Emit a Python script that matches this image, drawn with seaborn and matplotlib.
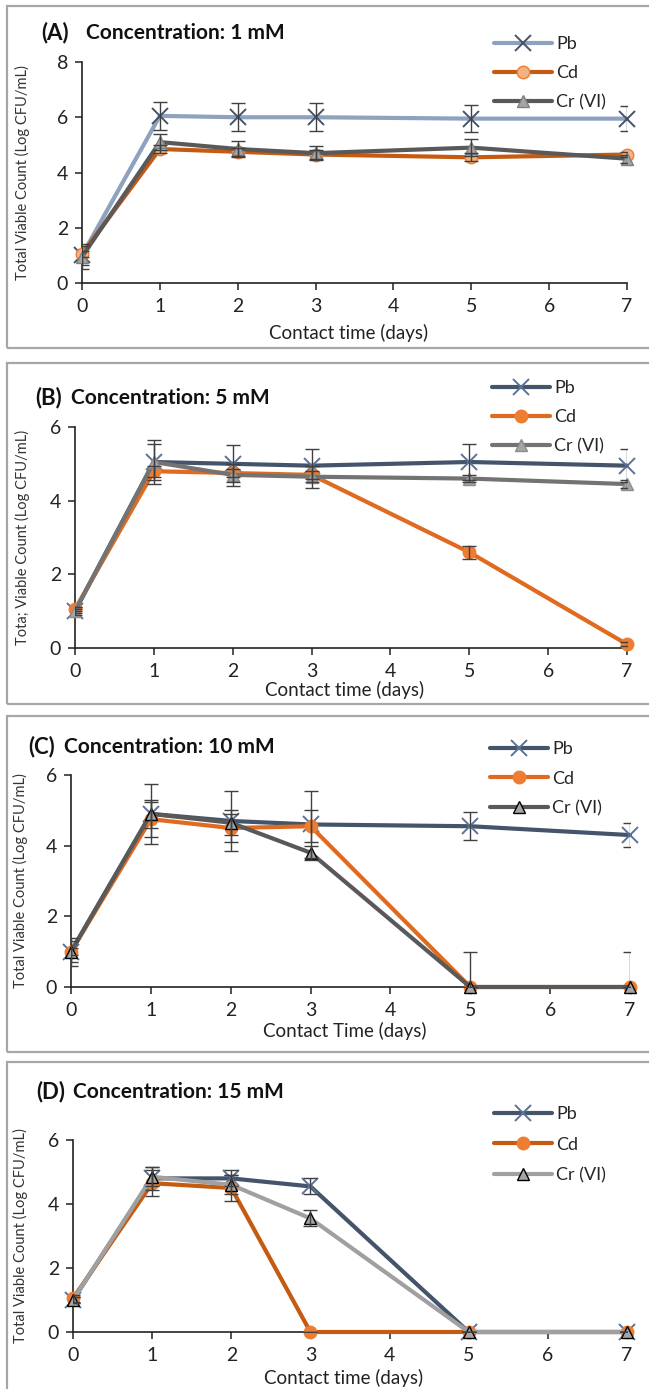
import numpy as np
import pandas as pd
import matplotlib
matplotlib.use('Agg')
import matplotlib.pyplot as plt
import seaborn as sns
from matplotlib.patches import Rectangle

sns.set_style('ticks')
plt.rcParams['font.family'] = ['Lato', 'DejaVu Sans']

days = [0, 1, 2, 3, 5, 7]
metals = ['Pb', 'Cd', 'Cr (VI)']

# (A) 1 mM
a_pb = [1.0, 6.05, 6.0, 6.0, 5.95, 5.95]
a_cd = [1.05, 4.85, 4.75, 4.65, 4.55, 4.65]
a_cr = [0.95, 5.1, 4.85, 4.7, 4.9, 4.5]
a_pb_err = [0.35, 0.5, 0.5, 0.5, 0.5, 0.45]
a_cd_err = [0.1, 0.15, 0.15, 0.15, 0.15, 0.1]
a_cr_err = [0.45, 0.3, 0.3, 0.25, 0.3, 0.15]

# (B) 5 mM
b_pb = [1.0, 5.05, 5.0, 4.95, 5.05, 4.95]
b_cd = [1.05, 4.8, 4.75, 4.7, 2.6, 0.1]
b_cr = [1.0, 5.05, 4.7, 4.65, 4.6, 4.45]
b_pb_err = [0.1, 0.5, 0.5, 0.45, 0.5, 0.45]
b_cd_err = [0.05, 0.15, 0.1, 0.1, 0.18, 0.05]
b_cr_err = [0.05, 0.6, 0.3, 0.3, 0.1, 0.1]

# (C) 10 mM
c_pb = [1.0, 4.9, 4.7, 4.6, 4.55, 4.3]
c_cd = [1.0, 4.75, 4.5, 4.55, 0.0, 0.0]
c_cr = [1.0, 4.9, 4.65, 3.8, 0.0, 0.0]
c_pb_err = [0.4, 0.85, 0.85, 0.95, 0.4, 0.35]
c_cd_err = [0.1, 0.5, 0.4, 0.45, 1.0, 1.0]
c_cr_err = [0.3, 0.4, 0.35, 0.2, 0.0, 0.0]

# (D) 15 mM
d_pb = [1.0, 4.8, 4.8, 4.55, 0.0, 0.0]
d_cd = [1.05, 4.65, 4.5, 0.0, 0.0, 0.0]
d_cr = [1.0, 4.85, 4.6, 3.55, 0.0, 0.0]
d_pb_err = [0.1, 0.35, 0.25, 0.25, 0.0, 0.0]
d_cd_err = [0.1, 0.4, 0.4, 0.0, 0.0, 0.0]
d_cr_err = [0.1, 0.3, 0.3, 0.25, 0.0, 0.0]

W, H = 649, 1389
fig = plt.figure(figsize=(W / 100, H / 100), dpi=100)

def fx(px):
    return px / W

def fy(py):
    return 1 - py / H

panels = [
    dict(tag='(A)', conc='Concentration: 1 mM', box=(7, 6, 348), ax=(82, 627, 62, 283),
         tag_xy=(41, 33), conc_x=86, ymax=8, leg=(494, 36), lsp=0.72,
         ylabel='Total Viable Count (Log CFU/mL)', ylab_x=22, xlabel='Contact time (days)', xlab_y=333,
         vals=(a_pb, a_cd, a_cr), errs=(a_pb_err, a_cd_err, a_cr_err),
         styles=[dict(color='#8EA2BE', mec='#44546A', mfc='#44546A'),
                 dict(color='#C55A11', mec='#ED7D31', mfc='#F4B183'),
                 dict(color='#595959', mec='#7F7F7F', mfc='#A5A5A5')]),
    dict(tag='(B)', conc='Concentration: 5 mM', box=(7, 363, 704), ax=(75, 627, 427, 648),
         tag_xy=(35, 398), conc_x=71, ymax=6, leg=(492, 380), lsp=0.72,
         ylabel='Tota; Viable Count (Log CFU/mL)', ylab_x=22, xlabel='Contact time (days)', xlab_y=690,
         vals=(b_pb, b_cd, b_cr), errs=(b_pb_err, b_cd_err, b_cr_err),
         styles=[dict(color='#44546A', mec='#5B7398', mfc='#5B7398'),
                 dict(color='#E06A1F', mec='#ED7D31', mfc='#ED7D31'),
                 dict(color='#737373', mec='#8C8C8C', mfc='#A5A5A5')]),
    dict(tag='(C)', conc='Concentration: 10 mM', box=(7, 716, 1052), ax=(71, 630, 775, 987),
         tag_xy=(28, 747), conc_x=64, ymax=6, leg=(490, 741), lsp=0.76,
         ylabel='Total Viable Count (Log CFU/mL)', ylab_x=20, xlabel='Contact Time (days)', xlab_y=1031,
         vals=(c_pb, c_cd, c_cr), errs=(c_pb_err, c_cd_err, c_cr_err),
         styles=[dict(color='#44546A', mec='#5B7398', mfc='#5B7398'),
                 dict(color='#E06A1F', mec='#ED7D31', mfc='#ED7D31'),
                 dict(color='#595959', mec='#000000', mfc='#A5A5A5')]),
    dict(tag='(D)', conc='Concentration: 15 mM', box=(7, 1062, 1400), ax=(73, 627, 1140, 1332),
         tag_xy=(36, 1092), conc_x=73, ymax=6, leg=(494, 1106), lsp=0.82,
         ylabel='Total Viable Count (Log CFU/mL)', ylab_x=20, xlabel='Contact time (days)', xlab_y=1378,
         vals=(d_pb, d_cd, d_cr), errs=(d_pb_err, d_cd_err, d_cr_err),
         styles=[dict(color='#44546A', mec='#5B7398', mfc='#5B7398'),
                 dict(color='#C55A11', mec='#ED7D31', mfc='#ED7D31'),
                 dict(color='#A0A0A0', mec='#000000', mfc='#A5A5A5')]),
]

markers = ['x', 'o', '^']
msizes = [11, 9, 9]

for p in panels:
    bx, btop, bbot = p['box']
    fig.patches.append(Rectangle((fx(bx), fy(bbot)), fx(W + 10 - bx), fy(btop) - fy(bbot),
                                 transform=fig.transFigure, fill=False, edgecolor='#A6A6A6', lw=1.6))
    x0, x1, ytop, ybot = p['ax']
    ax = fig.add_axes([fx(x0), fy(ybot), fx(x1 - x0), fy(ytop) - fy(ybot)])
    ax.set_facecolor('none')

    for i, m in enumerate(metals):
        df = pd.DataFrame({'day': days, 'value': p['vals'][i]})
        st = p['styles'][i]
        sns.lineplot(data=df, x='day', y='value', ax=ax, color=st['color'], lw=3.0,
                     marker=markers[i], markersize=msizes[i], markeredgecolor=st['mec'],
                     markerfacecolor=st['mfc'], markeredgewidth=1.4 if i == 0 else 1.0,
                     label=m, clip_on=False, zorder=3 + i)
        ax.errorbar(days, p['vals'][i], yerr=p['errs'][i], fmt='none', ecolor='#404040',
                    elinewidth=1.0, capsize=5, capthick=1.0, zorder=6)

    ax.set_xlim(0, 7)
    ax.set_ylim(0, p['ymax'])
    ax.set_xticks(range(8))
    ax.set_yticks(range(0, p['ymax'] + 1, 2))
    sns.despine(ax=ax)
    for s in ['left', 'bottom']:
        ax.spines[s].set_color('#222222')
        ax.spines[s].set_linewidth(1.2)
    ax.tick_params(axis='both', direction='out', length=5, width=1.1, color='#222222',
                   labelsize=14, labelcolor='#222222')
    ax.tick_params(axis='x', pad=6)
    ax.tick_params(axis='y', pad=5)
    ax.set_xlabel('')
    ax.set_ylabel('')

    fig.text(fx(p['ylab_x']), fy((ytop + ybot) / 2), p['ylabel'], rotation=90, ha='center',
             va='center', fontsize=10.5, color='#333333')
    fig.text(fx((x0 + x1) / 2 - 6), fy(p['xlab_y']), p['xlabel'], ha='center', va='center',
             fontsize=13.5, color='#222222')
    fig.text(fx(p['tag_xy'][0]), fy(p['tag_xy'][1]), p['tag'], ha='left', va='center',
             fontsize=16, fontweight='bold', color='#111111')
    fig.text(fx(p['conc_x']), fy(p['tag_xy'][1]), p['conc'], ha='left', va='center',
             fontsize=15, fontweight='bold', color='#111111')

    lx, ly = p['leg']
    ax.legend(loc='upper left', bbox_to_anchor=(fx(lx), fy(ly)), bbox_transform=fig.transFigure,
              frameon=False, fontsize=13, handlelength=3.2, handletextpad=0.25,
              labelspacing=p['lsp'], borderpad=0, borderaxespad=0)

fig.savefig('out.png', dpi=100)
